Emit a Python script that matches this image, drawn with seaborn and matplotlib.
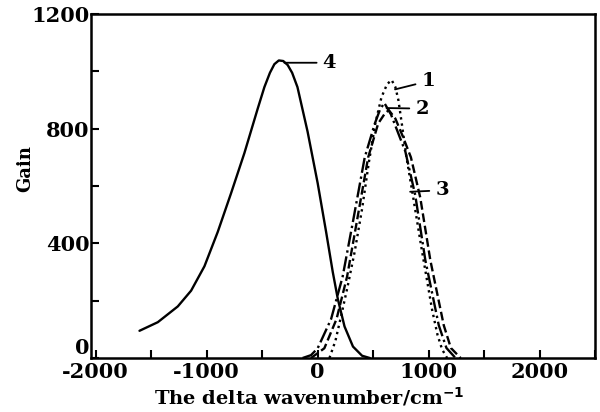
import matplotlib.pyplot as plt
import pandas as pd
import seaborn as sns
from matplotlib.ticker import MultipleLocator

# curve 4 (solid)
x4 = [-1605, -1440, -1260, -1140, -1020, -900, -780, -660, -540, -480, -430, -390, -350, -310, -270, -230, -182, -91, 0, 76, 136, 182, 242, 318, 400, 470]
y4 = [95, 125, 180, 235, 320, 440, 575, 715, 870, 945, 995, 1025, 1038, 1036, 1022, 995, 945, 790, 610, 440, 300, 205, 110, 40, 8, 0]

# curve 1 (dotted)
x1 = [106, 160, 212, 270, 333, 400, 460, 520, 575, 625, 666, 700, 727, 757, 800, 848, 939, 1030, 1080, 1121, 1166]
y1 = [0, 60, 148, 250, 370, 520, 680, 820, 910, 955, 970, 945, 900, 820, 700, 590, 375, 170, 80, 30, 0]

# curve 2 (dash-dot)
x2 = [-136, -60, 0, 121, 225, 315, 424, 515, 560, 600, 660, 720, 790, 879, 970, 1091, 1160, 1242]
y2 = [0, 10, 34, 136, 284, 470, 700, 818, 865, 890, 850, 790, 720, 568, 341, 114, 35, 0]

# curve 3 (dashed)
x3 = [-60, 60, 170, 265, 350, 455, 545, 600, 640, 700, 765, 840, 924, 1015, 1136, 1200, 1288]
y3 = [0, 34, 136, 284, 470, 700, 818, 850, 865, 835, 775, 700, 560, 341, 114, 35, 0]

curves = [("4", x4, y4, "-"), ("1", x1, y1, ":"), ("2", x2, y2, "-."), ("3", x3, y3, "--")]

sns.set_theme(style="ticks")
plt.rcParams["font.family"] = ["DejaVu Serif"]
plt.rcParams["font.weight"] = "bold"
plt.rcParams["axes.unicode_minus"] = False
plt.rcParams["axes.edgecolor"] = "black"
plt.rcParams["text.color"] = "black"
plt.rcParams["xtick.color"] = "black"
plt.rcParams["ytick.color"] = "black"
plt.rcParams["axes.labelcolor"] = "black"

fig = plt.figure(figsize=(6, 4.12), dpi=100)
ax = fig.add_axes([0.152, 0.131, 0.84, 0.835])

for name, xs, ys, ls in curves:
    d = pd.DataFrame({"x": xs, "y": ys})
    sns.lineplot(data=d, x="x", y="y", ax=ax, color="black", linestyle=ls, linewidth=1.7, sort=False)

# curve labels with leader lines
labels = [("4", -300, 1030, 45, 1030), ("1", 697, 937, 935, 966),
          ("2", 620, 872, 880, 870), ("3", 833, 580, 1060, 585)]
for txt, xa, ya, xt, yt in labels:
    ax.annotate(txt, xy=(xa, ya), xytext=(xt, yt), fontsize=14, fontweight="bold", va="center",
                arrowprops=dict(arrowstyle="-", color="black", lw=1.3, shrinkA=2, shrinkB=0))

ax.set_xlim(-2040, 2500)
ax.set_ylim(0, 1200)
ax.xaxis.set_major_locator(MultipleLocator(1000))
ax.xaxis.set_minor_locator(MultipleLocator(500))
ax.set_yticks([0, 400, 800, 1200])
ax.set_yticklabels(["0", "400", "800", "1200"])
ax.yaxis.set_minor_locator(MultipleLocator(200))
ax.get_yticklabels()[0].set_verticalalignment("bottom")
ax.tick_params(which="both", direction="in", length=6, width=1.5, labelsize=15)
ax.tick_params(axis="x", pad=3)
ax.tick_params(axis="y", pad=1)
for s in ax.spines.values():
    s.set_linewidth(1.8)
ax.set_xlabel("The delta wavenumber/cm$^{-1}$", fontsize=14, fontweight="bold")
ax.xaxis.set_label_coords(0.433, -0.08)
ax.set_ylabel("Gain", fontsize=13, fontweight="bold")
ax.yaxis.set_label_coords(-0.113, 0.55)

fig.savefig("out.png", dpi=100)
